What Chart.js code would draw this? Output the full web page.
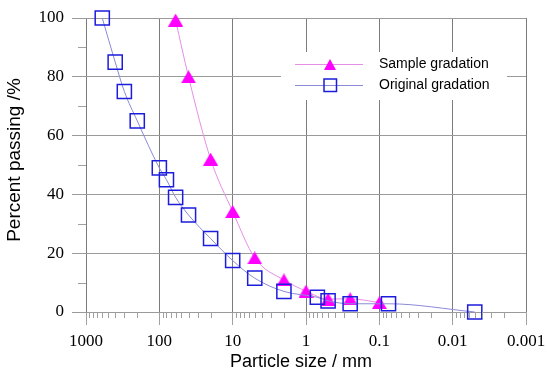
<!DOCTYPE html>
<html>
<head>
<meta charset="utf-8">
<script src="https://cdn.jsdelivr.net/npm/chart.js@4.4.1/dist/chart.umd.min.js"></script>
<style>
  body { margin: 0; background: #fff; }
  #wrap { width: 547px; height: 374px; }
</style>
</head>
<body>
<div id="wrap"><canvas id="grafico" width="547" height="374"></canvas></div>
<script>
// tamiz (mm) y porcentaje que pasa
const sampleSize = [60, 40, 20, 10, 5, 2, 1, 0.5, 0.25, 0.1];
const samplePass = [99.3, 80, 52, 34.2, 18.4, 10.9, 7.1, 4.4, 4.5, 3.2];
const origSize = [600, 400, 300, 200, 100, 80, 60, 40, 20, 10, 5, 2, 0.7, 0.5, 0.25, 0.075, 0.005];
const origPass = [100, 85, 75, 65, 49, 45, 39, 33, 25, 17.5, 11.5, 7, 5, 3.8, 2.8, 2.8, 0];
const xTicks = [1000, 100, 10, 1, 0.1, 0.01, 0.001];
const yTicks = [0, 20, 40, 60, 80, 100];
const seriesNames = ['Sample gradation', 'Original gradation'];
const xTitle = 'Particle size / mm';
const yTitle = 'Percent passing /%';

const vGrid = '#7c7c7c';
const hGrid = '#9a9a9a';
const pink = '#ff00ff';
const blue = '#1c1cdc';

// triangulo centrado en su caja
function makeTriangle(w, h) {
    const c = document.createElement('canvas');
    c.width = w; c.height = h;
    const g = c.getContext('2d');
    g.fillStyle = pink;
    g.beginPath();
    g.moveTo(w / 2, 0);
    g.lineTo(w, h);
    g.lineTo(0, h);
    g.closePath();
    g.fill();
    return c;
}
const triBig = makeTriangle(15, 13);
const triSmall = makeTriangle(12, 11);

const pts = (xs, ys) => xs.map((x, i) => ({ x: x, y: ys[i] }));

const extras = {
    id: 'extras',
    beforeDatasetsDraw(chart) {
        const ctx = chart.ctx;
        const a = chart.chartArea;
        ctx.save();
        ctx.fillStyle = '#fff';
        ctx.fillRect(a.left + 195, a.top + 34, 226, 48);
        ctx.restore();
    },
    afterDraw(chart) {
        const ctx = chart.ctx;
        const a = chart.chartArea;
        const xs = chart.scales.x;
        const ys = chart.scales.y;
        ctx.save();
        ctx.strokeStyle = '#a0a0a0';
        ctx.lineWidth = 1;
        ctx.beginPath();
        for (let n = -3; n <= 2; n++) {
            for (let k = 2; k <= 9; k++) {
                const px = Math.round(xs.getPixelForValue(k * Math.pow(10, n))) + 0.5;
                ctx.moveTo(px, a.bottom);
                ctx.lineTo(px, a.bottom + 6);
            }
        }
        for (let v = 10; v < 100; v += 20) {
            const py = Math.round(ys.getPixelForValue(v)) + 0.5;
            ctx.moveTo(a.left - 8, py);
            ctx.lineTo(a.left, py);
        }
        ctx.stroke();

        // titulos de ejes
        ctx.fillStyle = '#000';
        ctx.textAlign = 'center';
        ctx.textBaseline = 'middle';
        ctx.font = '18px "Liberation Sans", Arial, sans-serif';
        ctx.fillText(xTitle, (a.left + a.right) / 2 - 5, 362);
        ctx.save();
        ctx.translate(15, (a.top + a.bottom) / 2 - 5);
        ctx.rotate(-Math.PI / 2);
        ctx.font = '19px "Liberation Sans", Arial, sans-serif';
        ctx.fillText(yTitle, 0, 0);
        ctx.restore();

        // leyenda
        const lx = a.left + 209, rx = a.left + 277, mx = a.left + 244;
        const rows = [a.top + 46, a.top + 67];
        ctx.lineWidth = 1;
        ctx.strokeStyle = '#e58ee5';
        ctx.beginPath(); ctx.moveTo(lx, rows[0] + 0.5); ctx.lineTo(rx, rows[0] + 0.5); ctx.stroke();
        ctx.strokeStyle = '#8a8ad8';
        ctx.beginPath(); ctx.moveTo(lx, rows[1] + 0.5); ctx.lineTo(rx, rows[1] + 0.5); ctx.stroke();
        ctx.drawImage(triSmall, mx - 6, rows[0] - 5);
        ctx.strokeStyle = blue;
        ctx.lineWidth = 1.5;
        ctx.strokeRect(mx - 6, rows[1] - 6, 12.5, 12.5);
        ctx.fillStyle = '#000';
        ctx.textAlign = 'left';
        ctx.font = '14px "Liberation Sans", Arial, sans-serif';
        ctx.fillText(seriesNames[0], a.left + 293, rows[0]);
        ctx.fillText(seriesNames[1], a.left + 293, rows[1]);
        ctx.restore();
    }
};

const ctx = document.getElementById('grafico').getContext('2d');
const chart = new Chart(ctx, {
    type: 'line',
    data: {
        datasets: [{
            label: seriesNames[1],
            data: pts(origSize, origPass),
            borderColor: '#8a8ad8',
            borderWidth: 1,
            pointStyle: 'rect',
            pointRadius: 10,
            pointBorderColor: blue,
            pointBorderWidth: 1.5,
            pointBackgroundColor: 'rgba(0,0,0,0)',
            cubicInterpolationMode: 'monotone',
            clip: false,
            order: 0
        }, {
            label: seriesNames[0],
            data: pts(sampleSize, samplePass),
            borderColor: '#e58ee5',
            borderWidth: 1,
            pointStyle: triBig,
            pointRadius: 8,
            cubicInterpolationMode: 'monotone',
            clip: false,
            order: 1
        }]
    },
    options: {
        responsive: false,
        animation: false,
        devicePixelRatio: 1,
        layout: { padding: { top: 18, right: 21, left: 0, bottom: 0 } },
        plugins: {
            legend: { display: false },
            tooltip: { enabled: false }
        },
        scales: {
            x: {
                type: 'logarithmic',
                reverse: true,
                min: 0.001,
                max: 1000,
                afterBuildTicks: s => { s.ticks = xTicks.map(v => ({ value: v, major: true })); },
                afterFit: s => { s.height = 62; s.paddingLeft = 0; s.paddingRight = 0; },
                border: { display: false },
                grid: { color: vGrid, lineWidth: 1, tickLength: 13, tickColor: '#a0a0a0' },
                ticks: {
                    autoSkip: false,
                    maxRotation: 0,
                    padding: 6,
                    color: '#000',
                    font: { family: '"Liberation Serif", "Times New Roman", serif', size: 17 },
                    callback: v => String(v)
                }
            },
            y: {
                min: 0,
                max: 100,
                afterBuildTicks: s => { s.ticks = yTicks.map(v => ({ value: v })); },
                afterFit: s => { s.width = 86; s.paddingTop = 0; s.paddingBottom = 0; },
                border: { display: false },
                grid: { color: hGrid, lineWidth: 1, tickLength: 14, tickColor: hGrid },
                ticks: {
                    padding: 8,
                    color: '#000',
                    font: { family: '"Liberation Serif", "Times New Roman", serif', size: 17 }
                }
            }
        }
    },
    plugins: [extras]
});
</script>
</body>
</html>
